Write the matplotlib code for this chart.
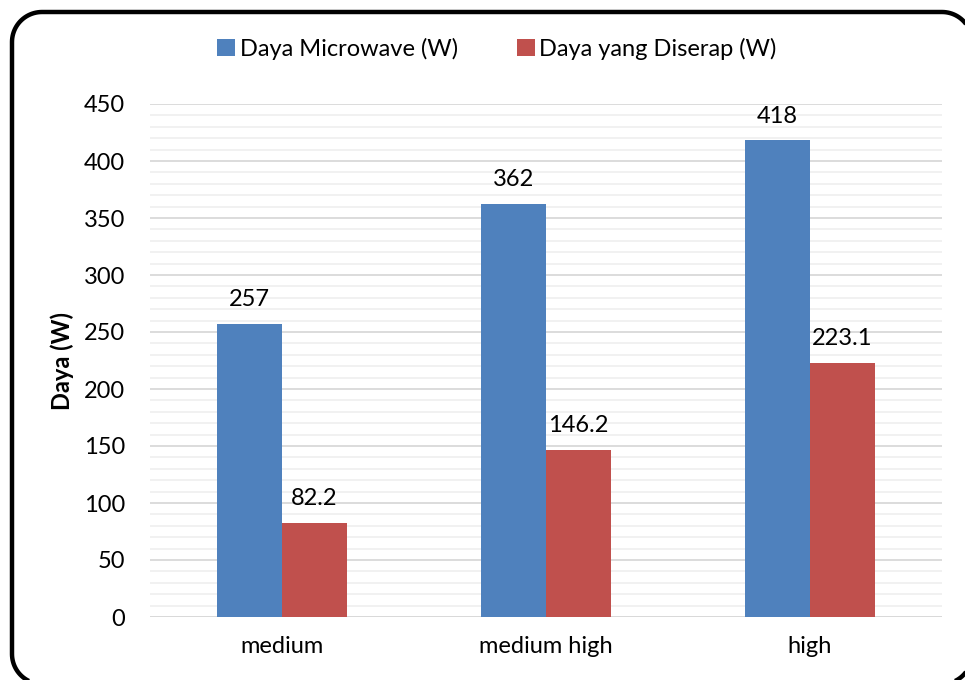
import matplotlib
matplotlib.use("Agg")
import matplotlib.pyplot as plt
from matplotlib.patches import Patch, Polygon
from matplotlib.ticker import MultipleLocator
import numpy as np

categories = ["medium", "medium high", "high"]
daya_microwave = [257, 362, 418]
daya_diserap = [82.2, 146.2, 223.1]
series_labels = ["Daya Microwave (W)", "Daya yang Diserap (W)"]
y_ticks = [0, 50, 100, 150, 200, 250, 300, 350, 400, 450]

plt.rcParams["font.family"] = ["Lato", "DejaVu Sans"]
FS = 17

W, H = 965, 680
fig = plt.figure(figsize=(W / 100, H / 100), dpi=100)


def rounded_rect(x0, y0, x1, y1, r, n=24):
    """Polygon outline of a rectangle with circular corners (pixel units)."""
    pts = []
    corners = [((x1 - r, y1 - r), 0), ((x0 + r, y1 - r), 90),
               ((x0 + r, y0 + r), 180), ((x1 - r, y0 + r), 270)]
    for (cx, cy), a0 in corners:
        t = np.radians(np.linspace(a0, a0 + 90, n))
        pts.extend(zip(cx + r * np.cos(t), cy + r * np.sin(t)))
    return np.array(pts)


# rounded frame around the chart, drawn in pixel units on a top layer
bg = fig.add_axes([0, 0, 1, 1], zorder=10)
bg.set_xlim(0, W)
bg.set_ylim(0, H)
bg.axis("off")
bg.patch.set_visible(False)
bg.add_patch(Polygon(rounded_rect(12, -4, 972, H - 12, 30), closed=True,
                     facecolor="none", edgecolor="black", linewidth=3.2,
                     joinstyle="round"))

ax = fig.add_axes([150 / W, (H - 617) / H, (942 - 150) / W, (617 - 104) / H])
ax.set_facecolor("none")

blue = "#4f81bd"
red = "#c0504d"
x = np.arange(len(categories))
w = 0.247
b1 = ax.bar(x - w / 2, daya_microwave, w, color=blue, zorder=3)
b2 = ax.bar(x + w / 2, daya_diserap, w, color=red, zorder=3)

for bars, vals in ((b1, daya_microwave), (b2, daya_diserap)):
    for rect, v in zip(bars, vals):
        ax.annotate(f"{v:g}", (rect.get_x() + rect.get_width() / 2, v),
                    xytext=(0, 10), textcoords="offset points",
                    ha="center", va="bottom", fontsize=FS, color="black")

ax.set_xlim(-0.5, len(categories) - 0.5)
ax.set_ylim(0, 450)
ax.set_yticks(y_ticks)
ax.yaxis.set_minor_locator(MultipleLocator(10))
ax.set_xticks(x)
ax.set_xticklabels(categories)
ax.tick_params(axis="both", which="both", length=0, labelsize=FS, colors="black")
ax.tick_params(axis="y", pad=18)
ax.tick_params(axis="x", pad=14)
ax.grid(axis="y", which="major", color="#d9d9d9", linewidth=1.3, zorder=1)
ax.grid(axis="y", which="minor", color="#f0f0f0", linewidth=1.3, zorder=1)
for s in ax.spines.values():
    s.set_visible(False)
ax.axhline(0, color="#d9d9d9", linewidth=1.3, zorder=2)

ax.set_ylabel("Daya (W)", fontsize=FS, fontweight="bold", labelpad=7)

handles = [Patch(facecolor=blue), Patch(facecolor=red)]
fig.legend(handles, series_labels, loc="center", bbox_to_anchor=(497 / W, (H - 49) / H),
           ncol=2, frameon=False, fontsize=FS, handlelength=0.75, handleheight=0.75,
           handletextpad=0.2, columnspacing=2.5)

fig.savefig("out.png", dpi=100)
